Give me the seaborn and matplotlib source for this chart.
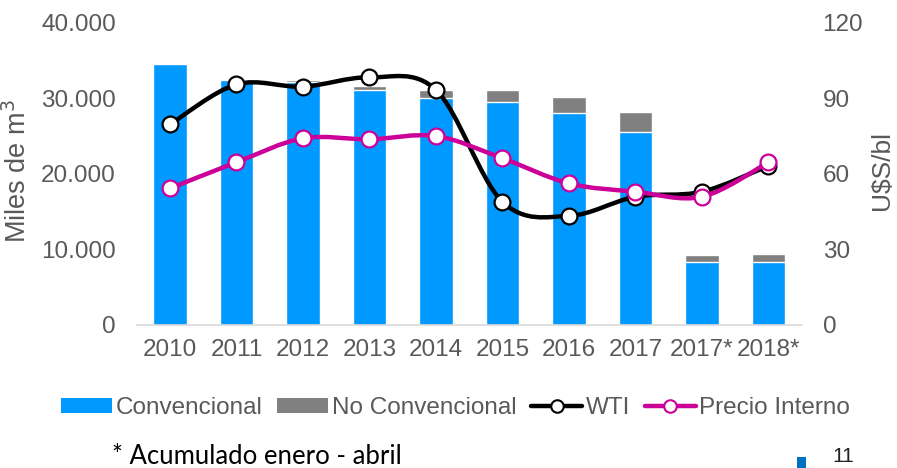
import numpy as np
import pandas as pd
import seaborn as sns
import matplotlib.pyplot as plt
from matplotlib.path import Path
from matplotlib.patches import PathPatch, Patch, Rectangle
from matplotlib.lines import Line2D

# Data
years = ['2010', '2011', '2012', '2013', '2014', '2015', '2016', '2017', '2017*', '2018*']
convencional = [34.6, 32.4, 32.1, 31.1, 30.1, 29.5, 28.1, 25.6, 8.4, 8.3]  # miles de m3 (x1000)
no_convencional = [0.0, 0.2, 0.3, 0.5, 1.0, 1.6, 2.1, 2.6, 0.9, 1.1]
wti = [79.6, 95.5, 94.6, 98.3, 93.3, 48.9, 43.3, 50.9, 52.9, 63.2]
precio_interno = [54.2, 64.6, 74.1, 73.7, 75.0, 66.2, 56.2, 52.9, 50.9, 64.6]

BLUE = '#0099FF'
GRAY = '#808080'
BLACK = '#000000'
MAGENTA = '#CC0099'
TXT = '#595959'

sns.set_theme(style='white')
plt.rcParams['font.family'] = ['Liberation Sans', 'DejaVu Sans']

df = pd.DataFrame({
    'year': years,
    'conv': np.array(convencional) * 1000,
    'total': (np.array(convencional) + np.array(no_convencional)) * 1000,
})

fig = plt.figure(figsize=(8.97, 4.68), dpi=100)
ax = fig.add_axes([0.1524, 0.3056, 0.7414, 0.6459])

sns.barplot(data=df, x='year', y='total', color=GRAY, width=0.5, saturation=1, ax=ax)
sns.barplot(data=df, x='year', y='conv', color=BLUE, width=0.5, saturation=1, ax=ax)

ax.set_xlim(-0.5, len(years) - 0.5)
ax.set_ylim(0, 40000)
ax.set_yticks([0, 10000, 20000, 30000, 40000])
ax.set_yticklabels(['0', '10.000', '20.000', '30.000', '40.000'])
ax.set_xlabel('')
ax.set_ylabel('Miles de m$^3$', fontsize=19.5, color=TXT)
ax.yaxis.set_label_coords(-0.157, 0.51)
ax.tick_params(axis='y', labelsize=17.5, colors=TXT, length=0, pad=15)
ax.tick_params(axis='x', labelsize=17.5, colors=TXT, length=0, pad=10)
for s in ['top', 'left', 'right']:
    ax.spines[s].set_visible(False)
ax.spines['bottom'].set_color('#D9D9D9')
ax.spines['bottom'].set_linewidth(1.2)

ax2 = ax.twinx()
ax2.set_ylim(0, 120)
ax2.set_yticks([0, 30, 60, 90, 120])
ax2.tick_params(axis='y', labelsize=17.5, colors=TXT, length=0, pad=15)
ax2.set_ylabel('U$S/bl', fontsize=19, color=TXT)
ax2.yaxis.set_label_coords(1.103, 0.51)
for s in ax2.spines.values():
    s.set_visible(False)


def smooth_path(xs, ys):
    # Excel-like smoothed line: cubic Bezier segments through the data points
    pts = np.column_stack([xs, ys]).astype(float)
    n = len(pts)
    verts = [pts[0]]
    codes = [Path.MOVETO]
    for i in range(n - 1):
        p0 = pts[i - 1] if i > 0 else pts[i]
        p1 = pts[i]
        p2 = pts[i + 1]
        p3 = pts[i + 2] if i + 2 < n else pts[i + 1]
        c1 = p1 + (p2 - p0) / 6.0
        c2 = p2 - (p3 - p1) / 6.0
        verts += [c1, c2, p2]
        codes += [Path.CURVE4] * 3
    return Path(verts, codes)


xs = np.arange(len(years))
for vals, col, z in [(wti, BLACK, 3), (precio_interno, MAGENTA, 5)]:
    ax2.add_patch(PathPatch(smooth_path(xs, vals), facecolor='none', edgecolor=col,
                            lw=3.2, capstyle='round', joinstyle='round', zorder=z))
    sns.scatterplot(x=xs, y=vals, ax=ax2, s=130, color='white', edgecolor=col,
                    linewidth=1.6, zorder=z + 1, legend=False)

handles = [
    Patch(facecolor=BLUE, edgecolor='none'),
    Patch(facecolor=GRAY, edgecolor='none'),
    Line2D([], [], color=BLACK, lw=3.2, marker='o', markersize=9,
           markerfacecolor='white', markeredgecolor=BLACK, markeredgewidth=1.5),
    Line2D([], [], color=MAGENTA, lw=3.2, marker='o', markersize=9,
           markerfacecolor='white', markeredgecolor=MAGENTA, markeredgewidth=1.5),
]
labels = ['Convencional', 'No Convencional', 'WTI', 'Precio Interno']
fig.legend(handles, labels, loc='center', bbox_to_anchor=(0.508, 0.128), ncol=4,
           frameon=False, fontsize=17.5, handlelength=2.1, handleheight=0.55,
           handletextpad=0.15, columnspacing=0.6, labelcolor=TXT)

fig.text(0.125, 0.008, '* Acumulado enero - abril', fontsize=18.5, color='black',
         family=['Lato', 'DejaVu Sans'], va='baseline')
fig.text(0.94, 0.004, '11', fontsize=15, color='#222222', ha='center',
         family=['Liberation Sans', 'DejaVu Sans'], va='bottom')
fig.patches.append(Rectangle((0.8885, 0.0), 0.010, 0.024, transform=fig.transFigure,
                             facecolor='#0070C0', edgecolor='none'))

fig.savefig('out.png', dpi=100)
